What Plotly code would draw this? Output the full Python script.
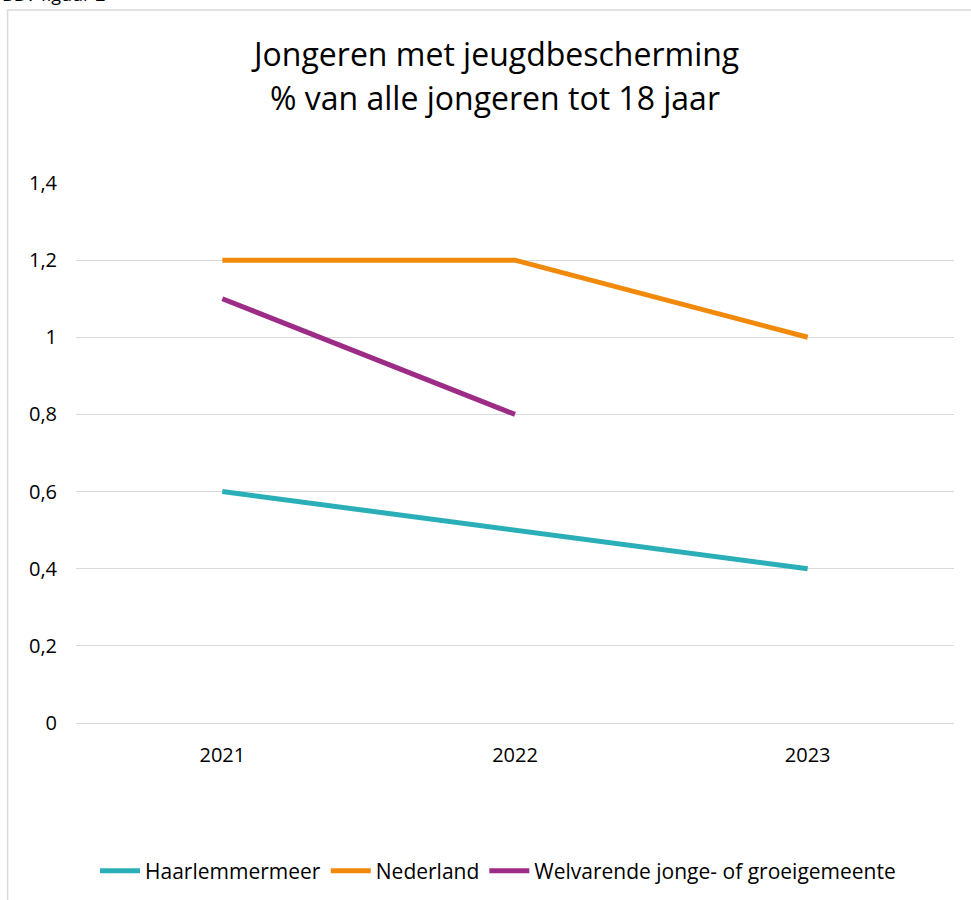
import plotly.graph_objects as go

years = ["2021", "2022", "2023"]
haarlemmermeer = [0.6, 0.5, 0.4]
nederland = [1.2, 1.2, 1.0]
welvarende = [1.1, 0.8, None]
series_names = ["Haarlemmermeer", "Nederland", "Welvarende jonge- of groeigemeente"]
colors = ["#2AAFB9", "#F18A0B", "#9C2C86"]
y_ticks = [0, 0.2, 0.4, 0.6, 0.8, 1.0, 1.2, 1.4]
y_ticktext = ["0", "0,2", "0,4", "0,6", "0,8", "1", "1,2", "1,4"]
title_lines = ["Jongeren met jeugdbescherming", "% van alle jongeren tot 18 jaar"]

W, H = 971, 900
L, R, T, B = 75.5, 16.5, 183, 177
pw, ph = W - L - R, H - T - B

def px(x):
    return (x - L) / pw

def py(y):
    return (H - B - y) / ph

fig = go.Figure()
for name, vals, c in zip(series_names, [haarlemmermeer, nederland, welvarende], colors):
    fig.add_trace(go.Scatter(x=years, y=vals, name=name, mode="lines",
                             line=dict(color=c, width=5), connectgaps=False))

FONT = "'Open Sans', sans-serif"
fig.update_layout(
    width=W, height=H,
    margin=dict(l=L, r=R, t=T, b=B),
    paper_bgcolor="white", plot_bgcolor="white",
    font=dict(family=FONT, color="#000000", size=20),
    xaxis=dict(type="category", range=[-0.5, 2.5], showgrid=False, zeroline=False,
               showline=True, linecolor="#D9D9D9", linewidth=1, ticks="",
               tickfont=dict(size=20), ticklabelstandoff=14),
    yaxis=dict(range=[0, 1.4], tickvals=y_ticks, ticktext=y_ticktext, showgrid=True,
               gridcolor="#D9D9D9", gridwidth=1, zeroline=False, showline=False,
               ticks="", tickfont=dict(size=20), ticklabelstandoff=18),
    legend=dict(orientation="h", x=498 / W, xref="container", xanchor="center",
                y=1 - 871 / H, yref="container", yanchor="middle",
                font=dict(size=21, family=FONT), itemwidth=40, traceorder="normal"),
    showlegend=True,
)

fig.add_shape(type="rect", xref="paper", yref="paper",
              x0=px(7), x1=px(985), y0=py(10), y1=py(915),
              line=dict(color="#D9D9D9", width=1.5), fillcolor="rgba(0,0,0,0)", layer="below")

for line_text, yc in zip(title_lines, [54, 98]):
    fig.add_annotation(text=line_text, xref="paper", yref="paper",
                       x=px(494.5), y=py(yc), xanchor="center", yanchor="middle",
                       showarrow=False, font=dict(size=32, family=FONT, color="#000000"))

fig.add_annotation(text="BBV figuur 2", xref="paper", yref="paper",
                   x=px(-1), y=py(8), xanchor="left", yanchor="bottom", showarrow=False,
                   font=dict(size=18, family=FONT, color="#000000"))

fig.write_html("out.html", config={"displayModeBar": False},
               post_script="document.body.style.margin='0';")
